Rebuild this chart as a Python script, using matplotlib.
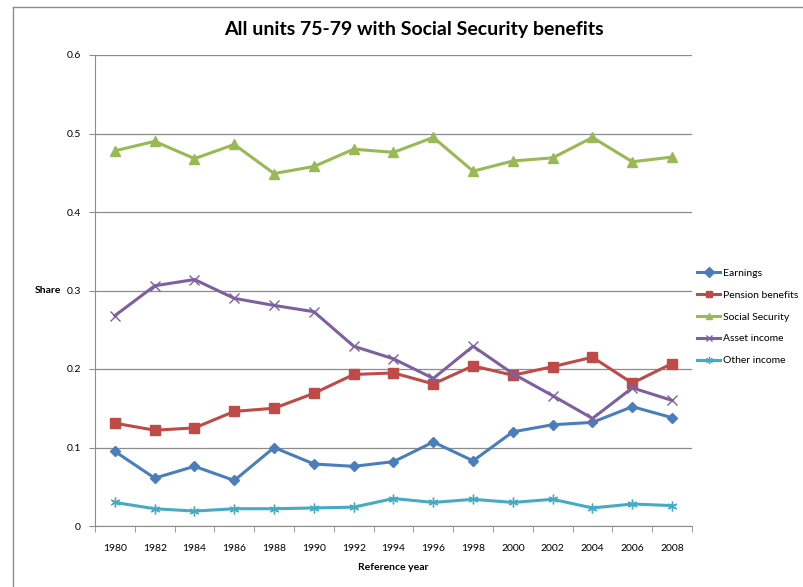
import matplotlib
matplotlib.use("Agg")
import matplotlib.pyplot as plt
from matplotlib.lines import Line2D

years = ["1980", "1982", "1984", "1986", "1988", "1990", "1992", "1994",
         "1996", "1998", "2000", "2002", "2004", "2006", "2008"]
earnings = [0.095, 0.061, 0.076, 0.058, 0.100, 0.079, 0.076, 0.082,
            0.107, 0.083, 0.120, 0.129, 0.132, 0.152, 0.138]
pension = [0.131, 0.122, 0.125, 0.146, 0.150, 0.169, 0.193, 0.195,
           0.181, 0.204, 0.192, 0.203, 0.215, 0.182, 0.207]
social_security = [0.478, 0.490, 0.468, 0.486, 0.449, 0.458, 0.480, 0.476,
                   0.495, 0.452, 0.465, 0.469, 0.495, 0.464, 0.470]
asset_income = [0.268, 0.306, 0.314, 0.290, 0.281, 0.273, 0.229, 0.213,
                0.188, 0.229, 0.194, 0.166, 0.137, 0.176, 0.160]
other_income = [0.030, 0.022, 0.019, 0.022, 0.022, 0.023, 0.024, 0.035,
                0.030, 0.034, 0.030, 0.034, 0.023, 0.028, 0.026]
yticks = [0, 0.1, 0.2, 0.3, 0.4, 0.5, 0.6]
ytick_labels = ["0", "0.1", "0.2", "0.3", "0.4", "0.5", "0.6"]

plt.rcParams['font.family'] = ['Lato', 'DejaVu Sans']

W, H = 804, 587
fig = plt.figure(figsize=(W / 100, H / 100), dpi=100)
# chart-area frame (only top and left edges visible in reference)
fig.add_artist(Line2D([13 / W, 1.0], [1 - 7 / H, 1 - 7 / H], transform=fig.transFigure,
                      color="#8c8c8c", linewidth=1.0))
fig.add_artist(Line2D([13 / W, 13 / W], [0.0, 1 - 7 / H], transform=fig.transFigure,
                      color="#8c8c8c", linewidth=1.0))

ax = fig.add_axes([95 / W, 1 - 526 / H, (692 - 95) / W, (526 - 55) / H])

x = list(range(len(years)))
series = [
    ("Earnings", earnings, "#4A7EBB", "D", 5, {}),
    ("Pension benefits", pension, "#BE4B48", "s", 6.5, {}),
    ("Social Security", social_security, "#98B954", "^", 7, {}),
    ("Asset income", asset_income, "#7D60A0", "x", 6.5, {"markeredgewidth": 1.0}),
    ("Other income", other_income, "#46AAC5", (6, 2, 0), 7, {"markeredgewidth": 1.0}),
]
for name, vals, col, mk, ms, kw in series:
    ax.plot(x, vals, color=col, linewidth=2.2, marker=mk, markersize=ms,
            markerfacecolor=col, markeredgecolor=col, label=name, **kw)

ax.set_xlim(-0.5, len(years) - 0.5)
ax.set_ylim(0, 0.6)
ax.set_yticks(yticks)
ax.set_yticklabels(ytick_labels, fontsize=7.5)
ax.set_xticks(x)
ax.set_xticklabels(years, fontsize=7.5)
ax.tick_params(axis='x', length=0, pad=13)
ax.set_xticks([i - 0.5 for i in range(len(years) + 1)], minor=True)
ax.tick_params(axis='x', which='minor', length=4, color="#8c8c8c", direction='out')
ax.tick_params(axis='y', length=4, color="#8c8c8c", direction='out', pad=6)
ax.yaxis.grid(True, color="#8c8c8c", linewidth=0.9)
ax.set_axisbelow(True)
for s in ["top", "right"]:
    ax.spines[s].set_visible(False)
for s in ["left", "bottom"]:
    ax.spines[s].set_color("#8c8c8c")

fig.text(414 / W, 1 - 30 / H, "All units 75-79 with Social Security benefits",
         fontsize=14, fontweight="bold", ha="center", va="center")
ax.set_xlabel("Reference year", fontsize=7.5, fontweight="bold")
ax.xaxis.set_label_coords(0.5, -(568 - 526) / 471)
ax.xaxis.label.set_va("center")
ax.set_ylabel("Share", fontsize=7.5, fontweight="bold", rotation=0,
              va="center", ha="center")
ax.yaxis.set_label_coords(-(95 - 48) / 597, 0.5)

leg = ax.legend(loc="center left", bbox_to_anchor=(1.0, (526 - 317) / 471),
                frameon=False, fontsize=7.5, handlelength=2.2, handletextpad=0.25,
                labelspacing=1.2, borderaxespad=0.1)
for h in leg.legend_handles:
    h.set_markersize(5)

fig.savefig("out.png", dpi=100)
